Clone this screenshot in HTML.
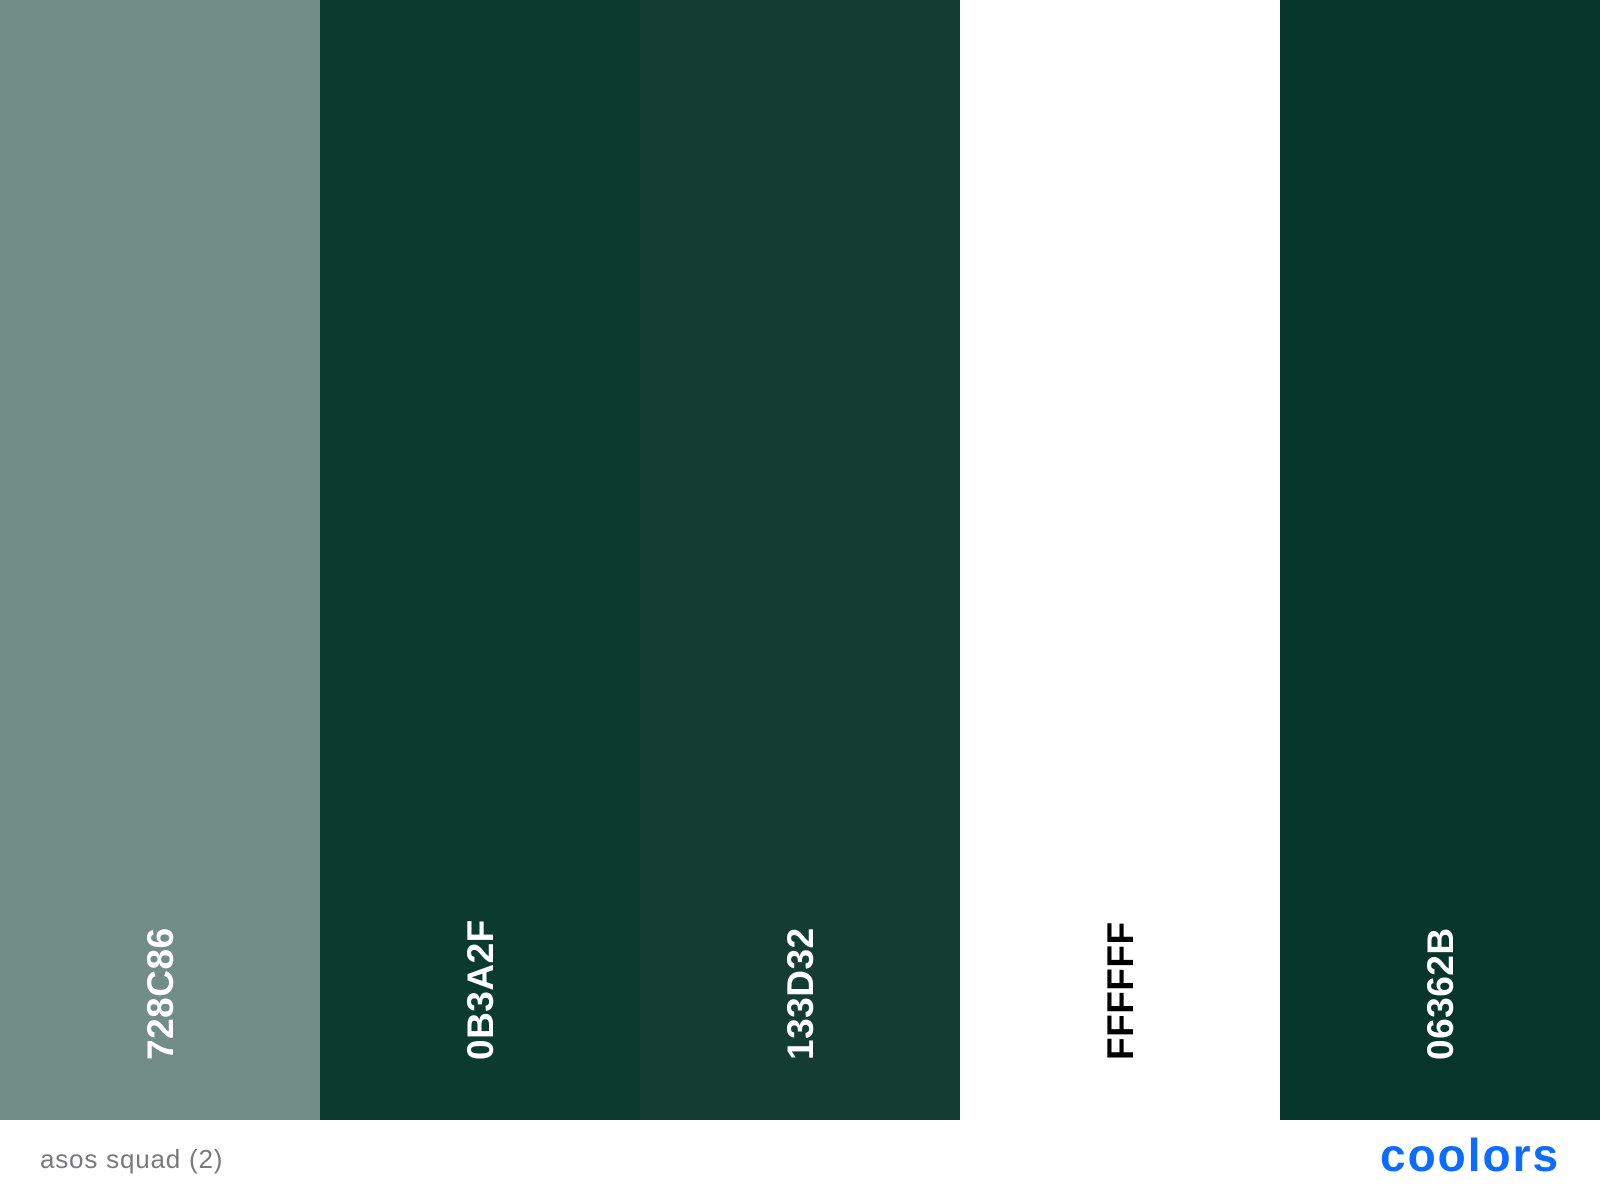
<!DOCTYPE html>
<html><head><meta charset="utf-8"><style>
body{margin:0;width:1600px;height:1200px;background:#fff;position:relative;overflow:hidden;font-family:"Liberation Sans",sans-serif}
.sw{position:absolute;top:0;height:1120px;width:320px}
.lbl{position:absolute;left:142px;top:1060px;line-height:38px;height:38px;transform:rotate(-90deg);transform-origin:0 0;font-size:37px;font-weight:bold;white-space:nowrap;letter-spacing:0.5px}
#foot{position:absolute;left:40px;top:1144px;font-size:26px;color:#7a7a7e;letter-spacing:0.8px}
#logo{position:absolute;left:1380px;top:1128px;font-size:46px;font-weight:bold;color:#0b6cff;letter-spacing:2px}
</style></head><body>
<div class="sw" style="left:0;background:#728C86"><div class="lbl" style="color:#fff">728C86</div></div>
<div class="sw" style="left:320px;background:#0B3A2F"><div class="lbl" style="color:#fff">0B3A2F</div></div>
<div class="sw" style="left:640px;background:#133D32"><div class="lbl" style="color:#fff">133D32</div></div>
<div class="sw" style="left:960px;background:#FFFFFF"><div class="lbl" style="color:#000">FFFFFF</div></div>
<div class="sw" style="left:1280px;background:#06362B"><div class="lbl" style="color:#fff">06362B</div></div>
<div id="foot">asos squad (2)</div>
<div id="logo">coolors</div>
</body></html>
